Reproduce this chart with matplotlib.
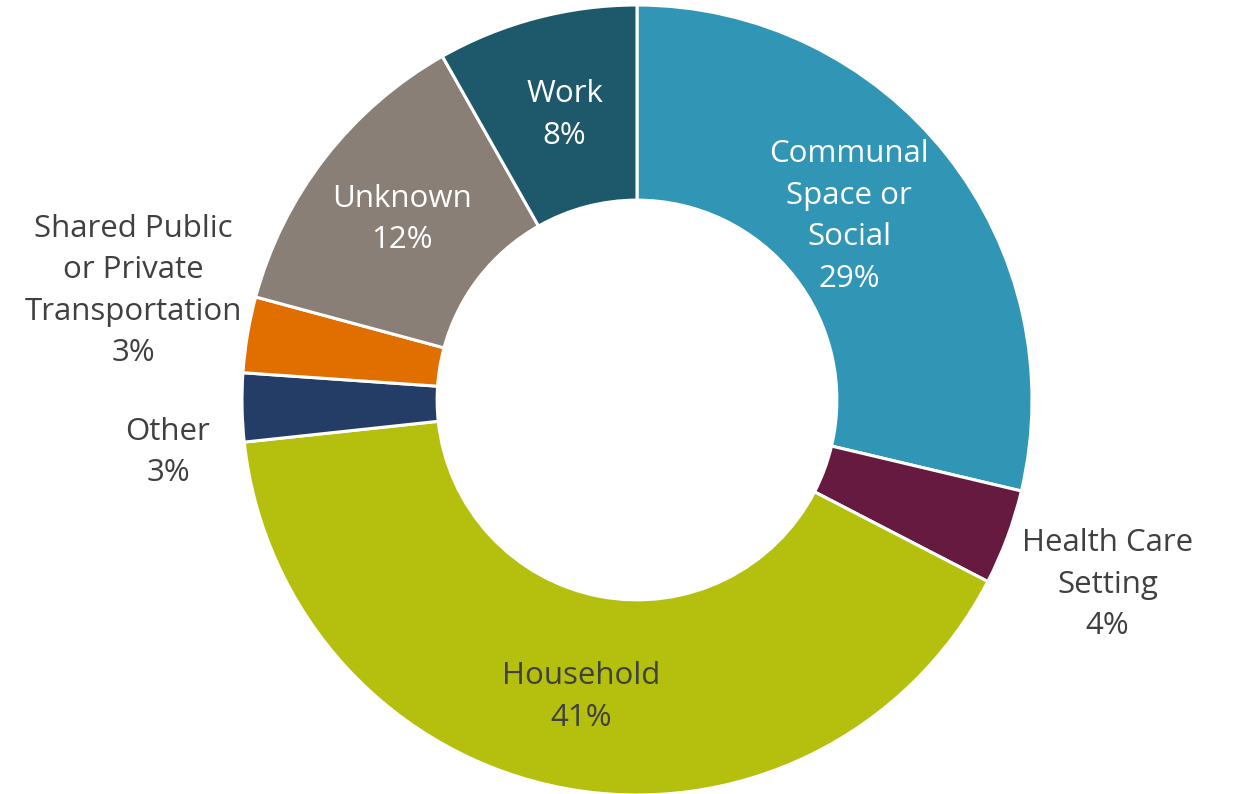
import numpy as np
import matplotlib
matplotlib.use("Agg")
import matplotlib.pyplot as plt

# ---- data ----
categories = ["Communal\nSpace or\nSocial", "Health Care\nSetting", "Household",
              "Other", "Shared Public\nor Private\nTransportation", "Unknown", "Work"]
values = [28.7, 3.9, 40.7, 2.8, 3.1, 12.6, 8.2]
pct_labels = ["29%", "4%", "41%", "3%", "3%", "12%", "8%"]
colors = ["#3196B5", "#661A40", "#B5BF0D", "#243D66", "#E06F00", "#8A7F76", "#1D586B"]

# ---- layout ----
label_colors = ["white", "#404040", "#404040", "#404040", "#404040", "white", "white"]
label_r = [0.71, 1.28, 0.765, 1.195, 1.305, 0.75, 0.744]
label_dang = [2.5, -1.1, 0.0, 5.3, -2.65, 0.3, -0.5]

W, H, DPI = 1235, 794, 100
cx, cy, R = 637, 400, 395

plt.rcParams['font.family'] = ['Open Sans', 'DejaVu Sans']
fig = plt.figure(figsize=(W / DPI, H / DPI), dpi=DPI)
ax = fig.add_axes([0, 0, 1, 1])

wedges, _ = ax.pie(values, colors=colors, startangle=90, counterclock=False,
                   radius=1.0, wedgeprops=dict(width=0.494, edgecolor='white', linewidth=2.2))

ax.set_xlim(-cx / R, (W - cx) / R)
ax.set_ylim(-(H - cy) / R, cy / R)
ax.set_aspect('equal')
ax.axis('off')

for w, cat, pct, col, r, da in zip(wedges, categories, pct_labels, label_colors, label_r, label_dang):
    mid = np.deg2rad((w.theta1 + w.theta2) / 2 + da)
    x, y = r * np.cos(mid), r * np.sin(mid)
    ax.text(x, y, cat + "\n" + pct, ha='center', va='center', multialignment='center',
            color=col, fontsize=22.5, linespacing=1.5)

fig.savefig("out.png", dpi=DPI)
